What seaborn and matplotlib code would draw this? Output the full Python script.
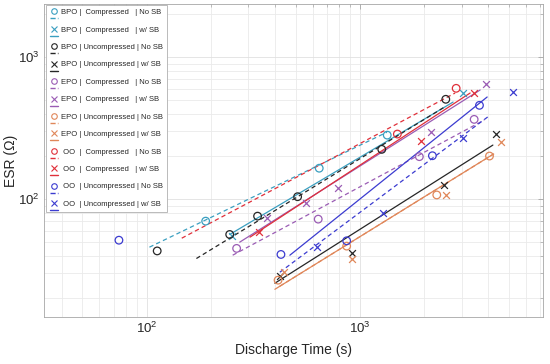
import pandas as pd
import seaborn as sns
import matplotlib.pyplot as plt
from matplotlib.lines import Line2D
from matplotlib.legend_handler import HandlerBase

# ---- data (discharge time in s, ESR in ohm) ----
# BPO, compressed
bpo_c_nosb_t = [189, 644, 1342]
bpo_c_nosb_esr = [70.0, 165, 282]
bpo_c_nosb_fit_t = [103, 1339]
bpo_c_nosb_fit_esr = [45.9, 296]
bpo_c_sb_t = [251, 3035]
bpo_c_sb_esr = [54.9, 555]
bpo_c_sb_fit_t = [245, 2733]
bpo_c_sb_fit_esr = [56.4, 482]

# BPO, uncompressed
bpo_u_nosb_t = [112, 245, 331, 510, 1265, 2525]
bpo_u_nosb_esr = [43.2, 56.4, 75.9, 104, 224, 504]
bpo_u_nosb_fit_t = [171, 2506]
bpo_u_nosb_fit_esr = [38.2, 447]
bpo_u_sb_t = [421, 914, 2479, 4336]
bpo_u_sb_esr = [28.7, 41.5, 125, 287]
bpo_u_sb_fit_t = [399, 4198]
bpo_u_sb_fit_esr = [25.6, 240]

# EPO, compressed
epo_c_nosb_t = [264, 637, 1898, 3430]
epo_c_nosb_esr = [45.0, 72.3, 199, 364]
epo_c_nosb_fit_t = [253, 3822]
epo_c_nosb_fit_esr = [40.3, 360]
epo_c_sb_t = [365, 556, 786, 2154, 3904]
epo_c_sb_esr = [73.1, 93.3, 119, 298, 645]
epo_c_sb_fit_t = [273, 3658]
epo_c_sb_fit_esr = [49.8, 586]

# EPO, uncompressed
epo_u_nosb_t = [413, 866, 2291, 4047]
epo_u_nosb_esr = [26.9, 46.7, 107, 201]
epo_u_nosb_fit_t = [421, 4303]
epo_u_nosb_fit_esr = [24.4, 211]
epo_u_sb_t = [440, 914, 2533, 4560]
epo_u_sb_esr = [30.8, 38.2, 107, 251]
epo_u_sb_fit_t = [399, 4211]
epo_u_sb_fit_esr = [23.2, 207]

# OO, compressed
oo_c_nosb_t = [1497, 2824]
oo_c_nosb_esr = [287, 602]
oo_c_nosb_fit_t = [146, 2793]
oo_c_nosb_fit_esr = [53.1, 558]
oo_c_sb_t = [336, 1941, 3430]
oo_c_sb_esr = [58.9, 256, 555]
oo_c_sb_fit_t = [305, 3284]
oo_c_sb_fit_esr = [54.0, 558]

# OO, uncompressed
oo_u_nosb_t = [74.1, 426, 866, 2185, 3632]
oo_u_nosb_esr = [51.4, 40.8, 50.9, 202, 457]
oo_u_nosb_fit_t = [421, 4077]
oo_u_nosb_fit_esr = [30.6, 390]
oo_u_sb_t = [630, 1279, 3055, 5210]
oo_u_sb_esr = [46.1, 79.3, 268, 570]
oo_u_sb_fit_t = [469, 3947]
oo_u_sb_fit_esr = [40.3, 523]

labels = [
    "BPO |  Compressed   | No SB",
    "BPO |  Compressed   | w/ SB",
    "BPO | Uncompressed | No SB",
    "BPO | Uncompressed | w/ SB",
    "EPO |  Compressed   | No SB",
    "EPO |  Compressed   | w/ SB",
    "EPO | Uncompressed | No SB",
    "EPO | Uncompressed | w/ SB",
    " OO  |  Compressed   | No SB",
    " OO  |  Compressed   | w/ SB",
    " OO  | Uncompressed | No SB",
    " OO  | Uncompressed | w/ SB",
]

points = [
    (bpo_c_nosb_t, bpo_c_nosb_esr, bpo_c_nosb_fit_t, bpo_c_nosb_fit_esr),
    (bpo_c_sb_t, bpo_c_sb_esr, bpo_c_sb_fit_t, bpo_c_sb_fit_esr),
    (bpo_u_nosb_t, bpo_u_nosb_esr, bpo_u_nosb_fit_t, bpo_u_nosb_fit_esr),
    (bpo_u_sb_t, bpo_u_sb_esr, bpo_u_sb_fit_t, bpo_u_sb_fit_esr),
    (epo_c_nosb_t, epo_c_nosb_esr, epo_c_nosb_fit_t, epo_c_nosb_fit_esr),
    (epo_c_sb_t, epo_c_sb_esr, epo_c_sb_fit_t, epo_c_sb_fit_esr),
    (epo_u_nosb_t, epo_u_nosb_esr, epo_u_nosb_fit_t, epo_u_nosb_fit_esr),
    (epo_u_sb_t, epo_u_sb_esr, epo_u_sb_fit_t, epo_u_sb_fit_esr),
    (oo_c_nosb_t, oo_c_nosb_esr, oo_c_nosb_fit_t, oo_c_nosb_fit_esr),
    (oo_c_sb_t, oo_c_sb_esr, oo_c_sb_fit_t, oo_c_sb_fit_esr),
    (oo_u_nosb_t, oo_u_nosb_esr, oo_u_nosb_fit_t, oo_u_nosb_fit_esr),
    (oo_u_sb_t, oo_u_sb_esr, oo_u_sb_fit_t, oo_u_sb_fit_esr),
]

# styles
group_colors = ["#3a9fc0", "#262626", "#9a5cb4", "#e0875a", "#e0303a", "#3c3cd0"]
dash = (0, (3.5, 2.5))


class MarkerOverLine(HandlerBase):
    # matlab-style entry: marker on the text row, its fit line just below
    def create_artists(self, legend, orig_handle, xdescent, ydescent,
                       width, height, fontsize, trans):
        mk, ln = orig_handle
        m = Line2D([width * 0.45 - xdescent], [height * 0.5 - ydescent],
                   marker=mk.get_marker(), ls="none", color=mk.get_color(),
                   mfc="none", mew=0.8, markersize=4, transform=trans)
        l = Line2D([-xdescent, width - xdescent],
                   [-height * 0.8 - ydescent] * 2,
                   color=ln.get_color(), ls=ln.get_linestyle(),
                   lw=1.0, transform=trans)
        return [m, l]


sns.set_theme(style="whitegrid")
plt.rcParams["font.family"] = ["Liberation Sans", "DejaVu Sans"]

fig = plt.figure(figsize=(5.5, 3.64), dpi=100)
ax = fig.add_axes([0.08, 0.129, 0.907, 0.86])
ax.set_xscale("log")
ax.set_yscale("log")

handles = []
for i, (t, esr, ft, fesr) in enumerate(points):
    c = group_colors[i // 2]
    no_sb = i % 2 == 0
    marker = "o" if no_sb else "x"
    ls = dash if no_sb else "-"
    df = pd.DataFrame({"t": t, "esr": esr})
    if no_sb:
        sns.scatterplot(data=df, x="t", y="esr", ax=ax, marker="o", s=30,
                        color=c, facecolor="none", edgecolor=c,
                        linewidth=0.9, legend=False, zorder=3)
    else:
        sns.scatterplot(data=df, x="t", y="esr", ax=ax, marker="x", s=24,
                        color=c, edgecolor=None, linewidth=0.9,
                        legend=False, zorder=3)
    sns.lineplot(x=ft, y=fesr, ax=ax, color=c, linestyle=ls, linewidth=0.9,
                 estimator=None, sort=False, legend=False, zorder=2)
    handles.append((Line2D([], [], marker=marker, color=c, ls="none"),
                    Line2D([], [], color=c, ls=ls)))

ax.set_xlim(33, 7200)
ax.set_ylim(14.8, 2360)

ax.set_facecolor("white")
ax.grid(True, which="major", color="#e0e0e0", linewidth=0.6)
ax.grid(True, which="minor", color="#eaeaea", linewidth=0.6)
for sp in ax.spines.values():
    sp.set_color("#a6a6a6")
    sp.set_linewidth(0.6)
    sp.set_visible(True)
ax.tick_params(which="both", direction="in", colors="#a6a6a6",
               labelcolor="#262626", labelsize=9.5, top=True, right=True)
ax.tick_params(which="major", length=3.5, width=0.6, pad=3)
ax.tick_params(which="minor", length=2, width=0.5)

ax.set_xlabel("Discharge Time (s)", fontsize=10, color="#262626", labelpad=5)
ax.set_ylabel("ESR (\u03a9)", fontsize=10, color="#262626", labelpad=0)

leg = ax.legend(handles, labels, handler_map={tuple: MarkerOverLine()},
                loc="upper left", bbox_to_anchor=(0.004, 0.997),
                borderaxespad=0, fontsize=5.5, handlelength=1.1,
                handletextpad=0.4, labelspacing=1.32, borderpad=0.5,
                frameon=True, fancybox=False, framealpha=1)
leg.get_frame().set_edgecolor("#b0b0b0")
leg.get_frame().set_linewidth(0.6)

fig.savefig("out.png", dpi=100)
